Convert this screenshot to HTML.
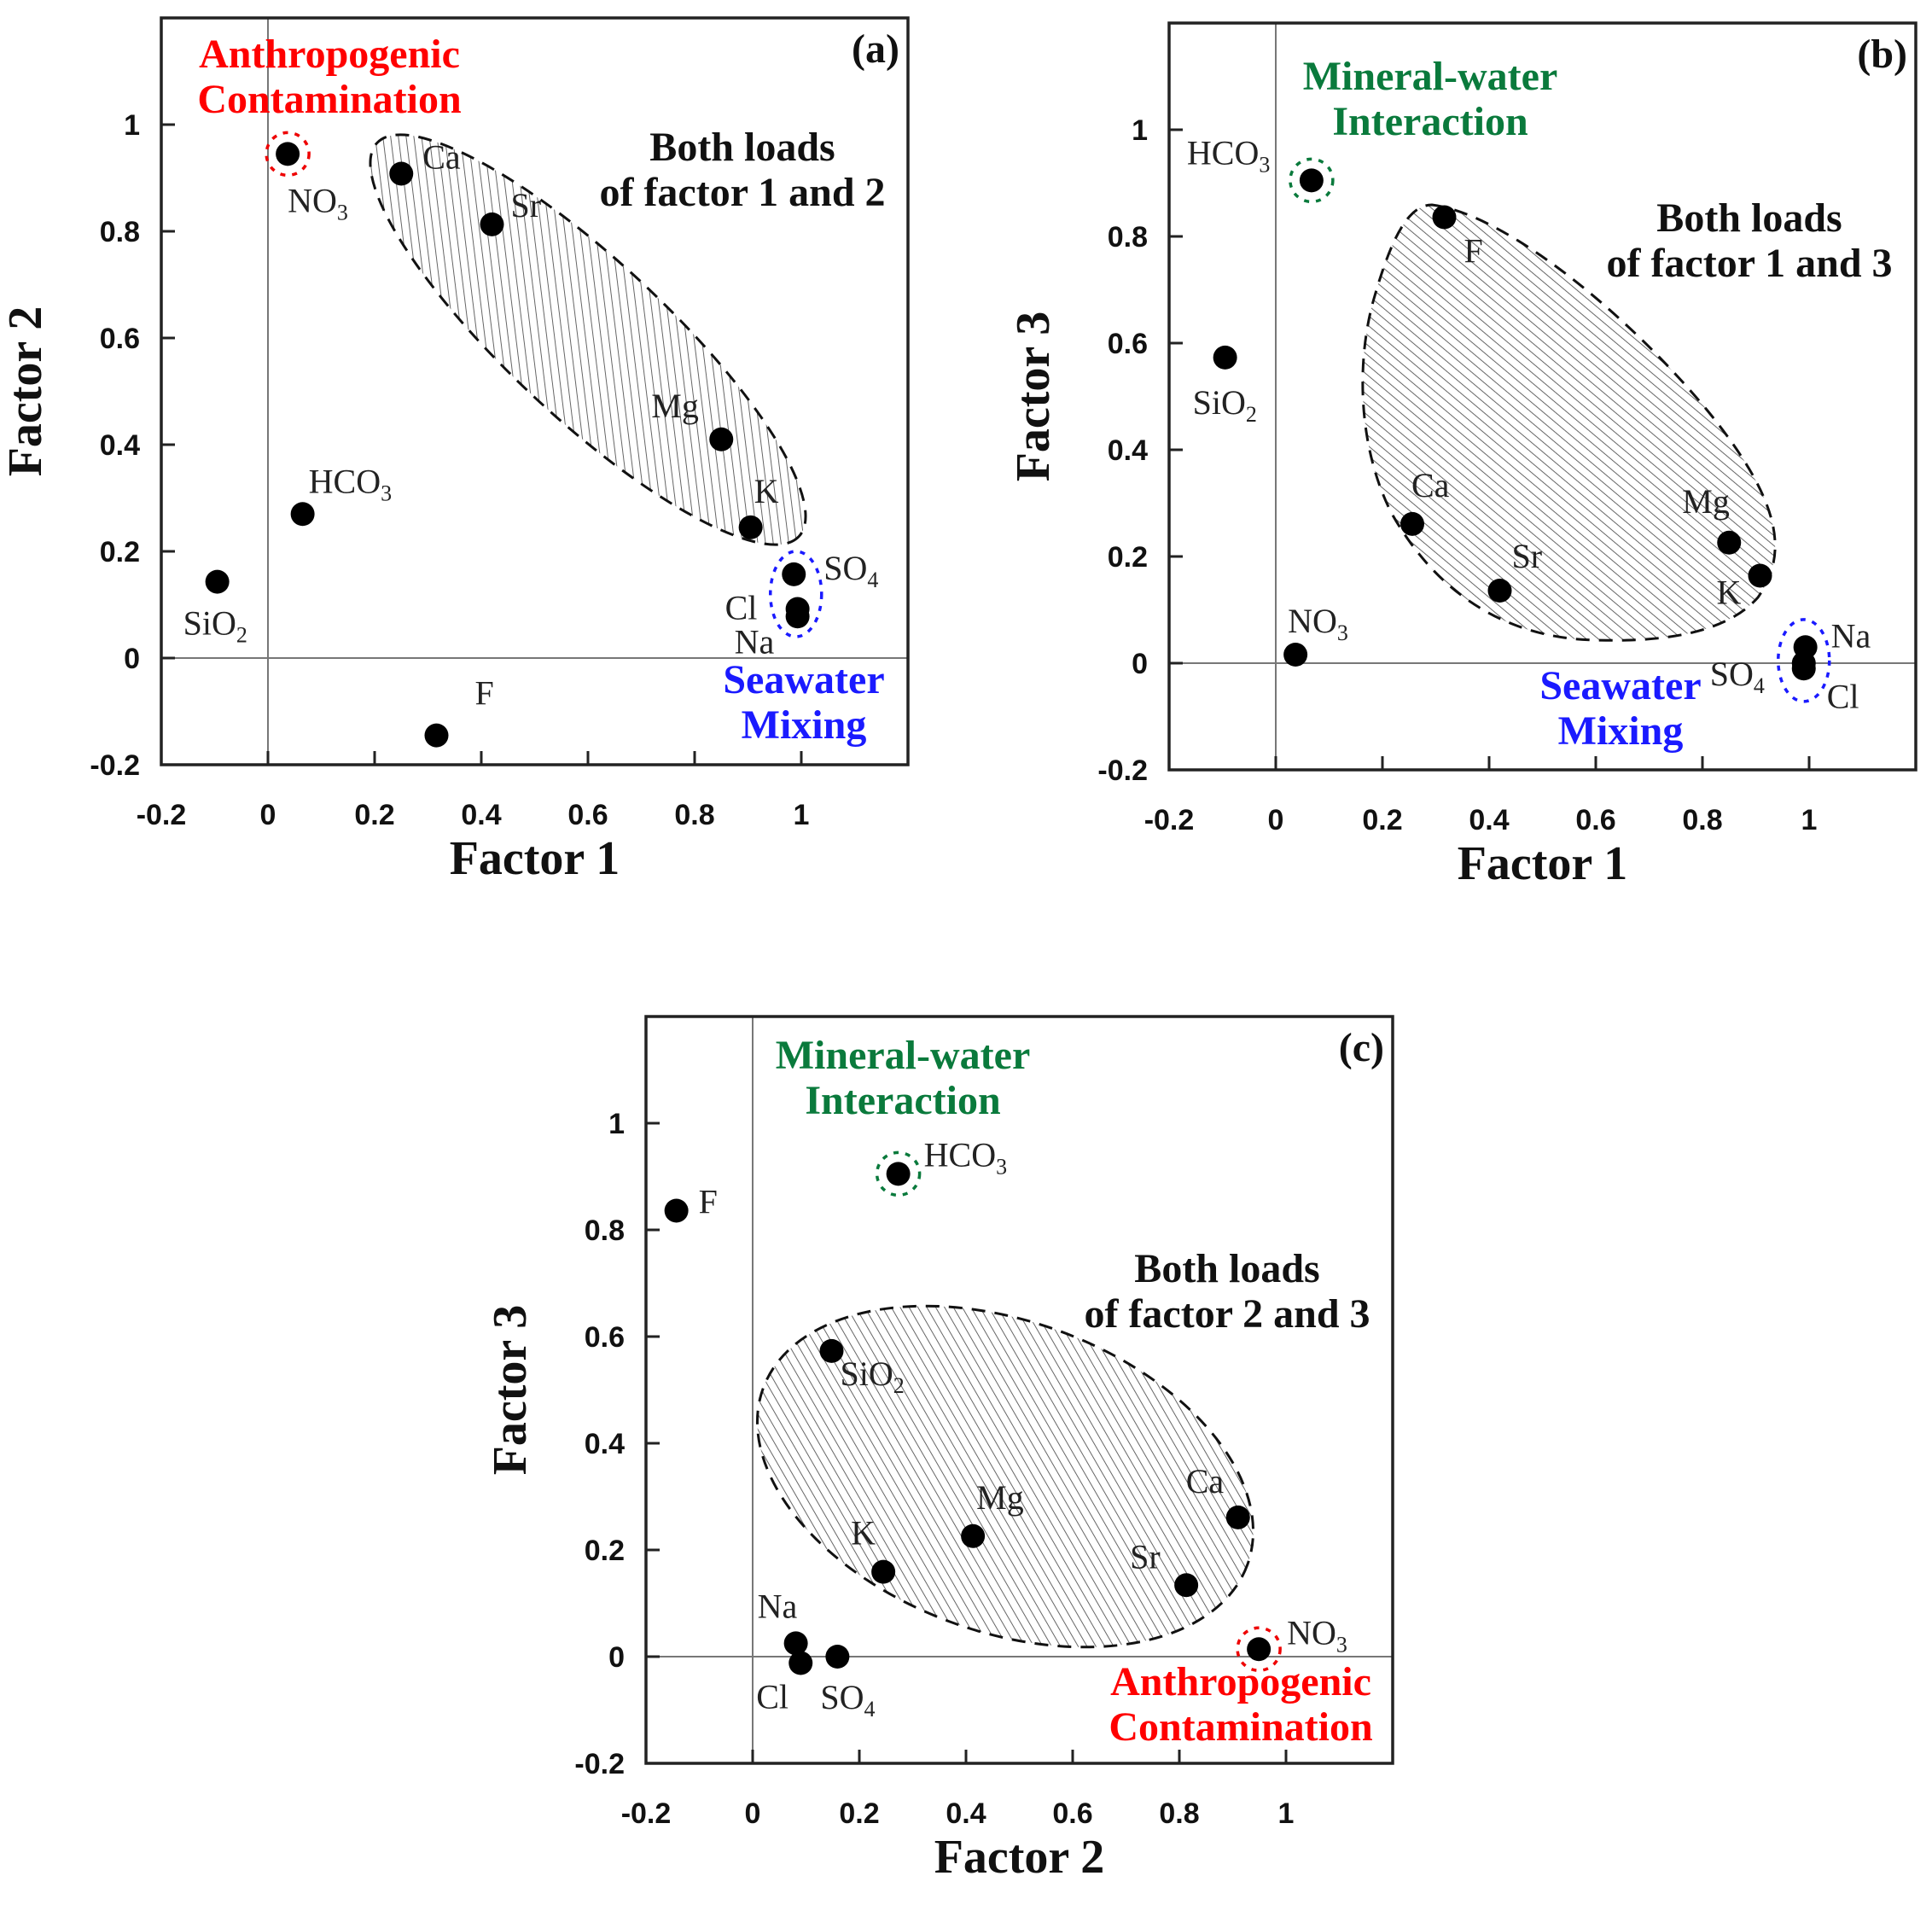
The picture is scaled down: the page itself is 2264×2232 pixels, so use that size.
<!DOCTYPE html>
<html><head><meta charset="utf-8"><style>
html,body{margin:0;padding:0;background:#fff;}
svg{display:block;}
.tick{font-family:"Liberation Sans",sans-serif;font-weight:bold;font-size:34px;fill:#111;}
.ttl{font-family:"Liberation Serif",serif;font-weight:bold;font-size:56px;fill:#111;}
.lbl{font-family:"Liberation Serif",serif;font-size:40px;fill:#222;}
.ann{font-family:"Liberation Serif",serif;font-weight:bold;font-size:48px;}
</style></head><body>
<svg id="chart" width="2264" height="2232" viewBox="0 0 2264 2232" xmlns="http://www.w3.org/2000/svg">
<defs>
<pattern id="hatch" patternUnits="userSpaceOnUse" width="9" height="9" patternTransform="rotate(-50)">
<line x1="0" y1="0" x2="0" y2="9" stroke="#555" stroke-width="1.8"/>
</pattern>
</defs>
</svg>
<script>
// ---------- data ----------
const ticks = [-0.2, 0, 0.2, 0.4, 0.6, 0.8, 1];
const tickLabels = ["-0.2", "0", "0.2", "0.4", "0.6", "0.8", "1"];
const namesA = ["NO3","Ca","Sr","Mg","K","SO4","Cl","Na","HCO3","SiO2","F"];
const xA = [0.037,0.25,0.42,0.85,0.905,0.986,0.993,0.993,0.065,-0.095,0.316];
const yA = [0.945,0.908,0.813,0.41,0.245,0.157,0.092,0.078,0.27,0.143,-0.145];
const namesB = ["HCO3","F","SiO2","Ca","Sr","Mg","K","NO3","Na","SO4","Cl"];
const xB = [0.067,0.316,-0.095,0.256,0.42,0.85,0.908,0.037,0.993,0.99,0.99];
const yB = [0.905,0.836,0.573,0.261,0.136,0.226,0.164,0.016,0.03,0.0,-0.01];
const namesC = ["F","HCO3","SiO2","K","Mg","Ca","Sr","NO3","Na","Cl","SO4"];
const xC = [-0.143,0.273,0.148,0.245,0.413,0.91,0.813,0.949,0.081,0.09,0.159];
const yC = [0.836,0.905,0.573,0.159,0.226,0.261,0.134,0.014,0.025,-0.012,0.0];

// label offsets (px) relative to each point
const offA = [[0,68],[25,-6],[22,-9],[-82,-26],[4,-29],[35,6],[-85,12],[-74,43],[7,-25],[-40,62],[45,-36]];
const offB = [[-146,-19],[23,53],[-38,66],[-1,-32],[14,-27],[-55,-35],[-51,33],[-9,-26],[30,0],[-110,26],[27,46]];
const offC = [[26,3],[30,-9],[10,40],[-38,-32],[4,-32],[-61,-29],[-66,-20],[33,-6],[-45,-30],[-52,53],[-20,61]];

const NS = "http://www.w3.org/2000/svg";
const svg = document.getElementById('chart');
function el(tag, attrs, parent){const e=document.createElementNS(NS,tag);for(const k in attrs)e.setAttribute(k,attrs[k]);(parent||svg).appendChild(e);return e;}

function panel(id, L, T, xName, yName, tag, names, xs, ys, offs){
  const S=875, lo=-0.2, hi=1.2;
  const sx=v=>L+(v-lo)/(hi-lo)*S, sy=v=>T+S-(v-lo)/(hi-lo)*S;
  const g=el('g',{});
  
  
  const zx=el('line',{x1:sx(0),x2:sx(0),y1:T,y2:T+S,stroke:'#777','stroke-width':2},g);
   
  const zy=el('line',{x1:L,x2:L+S,y1:sy(0),y2:sy(0),stroke:'#777','stroke-width':2},g);
   
  ticks.forEach((t,i)=>{
    const a=el('line',{x1:sx(t),x2:sx(t),y1:T+S,y2:T+S-16,stroke:'#222','stroke-width':3},g);
     
    const tx=el('text',{x:sx(t),y:T+S+70,'text-anchor':'middle',class:'tick'},g);tx.textContent=tickLabels[i];
     
    const b=el('line',{x1:L,x2:L+16,y1:sy(t),y2:sy(t),stroke:'#222','stroke-width':3},g);
     
    const ty=el('text',{x:L-25,y:sy(t)+12,'text-anchor':'end',class:'tick'},g);ty.textContent=tickLabels[i];
     
  });
  const fr=el('rect',{x:L,y:T,width:S,height:S,fill:'none',stroke:'#222','stroke-width':3.5},g);
   
  const xt=el('text',{x:L+S/2,y:T+S+128,'text-anchor':'middle',class:'ttl'},g);xt.textContent=xName;
   
  const yx=L-141, yy=T+S/2;
  const yt=el('text',{x:yx,y:yy,'text-anchor':'middle',class:'ttl',transform:`rotate(-90 ${yx} ${yy})`},g);yt.textContent=yName;
   
  const pl=el('text',{x:L+S-10,y:T+52,'text-anchor':'end',class:'ann',fill:'#111'},g);pl.textContent=tag;
   
  return {g,sx,sy,S,L,T,names,xs,ys,offs};
}
function points(p){
  p.names.forEach((n,i)=>{
    const cx=p.sx(p.xs[i]), cy=p.sy(p.ys[i]);
    const c=el('circle',{cx:cx,cy:cy,r:14,fill:'#000'},p.g);
     
    const m=n.match(/^([A-Za-z]+?)(\d?)$/);
    const t=el('text',{x:cx+p.offs[i][0],y:cy+p.offs[i][1],class:'lbl'},p.g);
     
    const s1=el('tspan',{},t); s1.textContent=m[1];
    if(m[2]){const s2=el('tspan',{dy:9,'font-size':26},t); s2.textContent=m[2];}
  });
}
function text2(p,lines,cx,y0,color,name){
  lines.forEach((s,i)=>{
    const t=el('text',{x:cx,y:y0+i*53,'text-anchor':'middle',class:'ann',fill:color},p.g);t.textContent=s;
     
  });
}
function dashCircle(p,x,y,rx,ry,color,name){
  const e=el('ellipse',{cx:p.sx(x),cy:p.sy(y),rx:rx,ry:ry,fill:'none',stroke:color,'stroke-width':3.5,'stroke-dasharray':'6 8'},p.g);
   
}
function hatchEllipse(p,cx,cy,rx,ry,rot,name){
  const e=el('ellipse',{cx:cx,cy:cy,rx:rx,ry:ry,transform:`rotate(${rot} ${cx} ${cy})`,fill:'url(#hatch)',stroke:'#111','stroke-width':3,'stroke-dasharray':'16 11'},p.g);
   
  p.g.insertBefore(e,p.g.children[2]);
}

// Panel a
const pa=panel('a',189,21,'Factor 1','Factor 2','(a)',namesA,xA,yA,offA);
hatchEllipse(pa,689,398,338,92,43,'hatched-group-ellipse');
points(pa);
dashCircle(pa,xA[0],yA[0],25,25,'#e00','nitrate-highlight-circle');
dashCircle(pa,0.99,0.12,30,50,'#1a1aff','seawater-highlight-ellipse');
text2(pa,['Anthropogenic','Contamination'],386,79,'#f00','anthropogenic-annotation');
text2(pa,['Both loads','of factor 1 and 2'],870,188,'#111','both-loads-annotation');
text2(pa,['Seawater','Mixing'],942,812,'#1a1aff','seawater-annotation');

// Panel b
const pb=panel('b',1370,27,'Factor 1','Factor 3','(b)',namesB,xB,yB,offB);
{
  const d='M1678,240 C1760,250 1900,360 2000,480 C2090,590 2095,650 2060,700 C2020,745 1940,752 1870,750 C1760,748 1680,690 1630,600 C1590,520 1590,420 1610,350 C1630,280 1650,240 1678,240 Z';
  const e=el('path',{d:d,fill:'url(#hatch)',stroke:'#111','stroke-width':3,'stroke-dasharray':'16 11'},pb.g);
   
  pb.g.insertBefore(e,pb.g.children[2]);
}
points(pb);
dashCircle(pb,xB[0],yB[0],25,25,'#0a7a3c','bicarbonate-highlight-circle');
dashCircle(pb,0.99,0.005,30,48,'#1a1aff','seawater-highlight-ellipse');
text2(pb,['Mineral-water','Interaction'],1676,105,'#0a7a3c','mineral-water-annotation');
text2(pb,['Both loads','of factor 1 and 3'],2050,271,'#111','both-loads-annotation');
text2(pb,['Seawater','Mixing'],1899,819,'#1a1aff','seawater-annotation');

// Panel c
const pc=panel('c',757,1191,'Factor 2','Factor 3','(c)',namesC,xC,yC,offC);
hatchEllipse(pc,1178,1730,302,182,20,'hatched-group-ellipse');
points(pc);
dashCircle(pc,xC[1],yC[1],25,25,'#0a7a3c','bicarbonate-highlight-circle');
dashCircle(pc,xC[7],yC[7],25,25,'#e00','nitrate-highlight-circle');
text2(pc,['Mineral-water','Interaction'],1058,1252,'#0a7a3c','mineral-water-annotation');
text2(pc,['Both loads','of factor 2 and 3'],1438,1502,'#111','both-loads-annotation');
text2(pc,['Anthropogenic','Contamination'],1454,1986,'#f00','anthropogenic-annotation');
</script>
</body></html>
